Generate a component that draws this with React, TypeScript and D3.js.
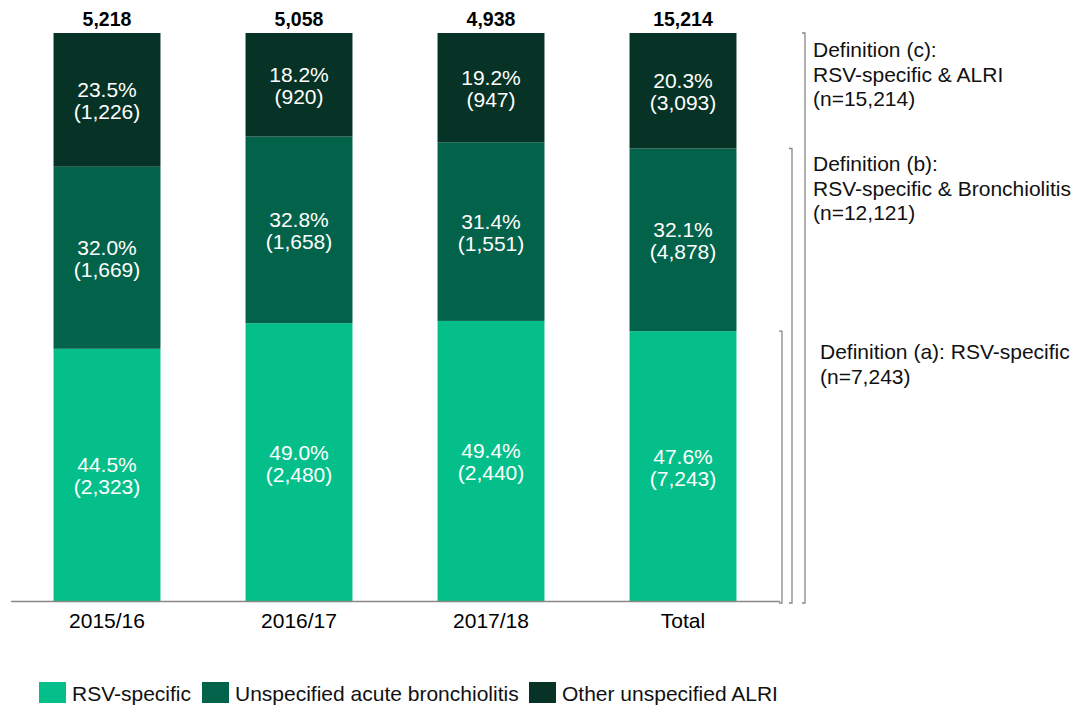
import React from "react";
import * as d3 from "d3";

const categories = ["2015/16", "2016/17", "2017/18", "Total"];
const seriesNames = ["RSV-specific", "Unspecified acute bronchiolitis", "Other unspecified ALRI"];
const pctRSV = [44.5, 49.0, 49.4, 47.6];
const pctBronch = [32.0, 32.8, 31.4, 32.1];
const pctOther = [23.5, 18.2, 19.2, 20.3];
const nRSV = [2323, 2480, 2440, 7243];
const nBronch = [1669, 1658, 1551, 4878];
const nOther = [1226, 920, 947, 3093];
const totals = [5218, 5058, 4938, 15214];
const definitions = [
  { lines: ["Definition (a): RSV-specific", "(n=7,243)"], upTo: 1 },
  { lines: ["Definition (b):", "RSV-specific & Bronchiolitis", "(n=12,121)"], upTo: 2 },
  { lines: ["Definition (c):", "RSV-specific & ALRI", "(n=15,214)"], upTo: 3 },
];
const colors = ["#05bf8a", "#03634a", "#063326"];

export default function App() {
  const W = 1076, H = 705;
  const x = d3.scaleBand<string>().domain(categories).range([11, 779]).paddingInner(0.443).paddingOuter(0.2215);
  const y = d3.scaleLinear().domain([0, 100]).range([602, 33]);
  const fmt = d3.format(",");
  const font = "'Liberation Sans', Arial, sans-serif";

  const rows = categories.map((c, i) => ({
    cat: c,
    vals: [pctRSV[i], pctBronch[i], pctOther[i]],
    ns: [nRSV[i], nBronch[i], nOther[i]],
  }));

  const bracketX = [782, 792, 805];
  const textX = [820, 813, 813];
  const textY0 = [359, 171, 57];

  return (
    <svg width={W} height={H} style={{ position: "absolute", left: 0, top: 0, background: "#fff" }} fontFamily={font}>
      {rows.map((r, i) => {
        let cum = 0;
        const x0 = x(r.cat)!;
        const bw = x.bandwidth();
        return (
          <g key={r.cat}>
            {r.vals.map((v, k) => {
              const y0 = y(cum), y1 = y(cum + v);
              cum += v;
              const cy = (y0 + y1) / 2;
              return (
                <g key={k}>
                  <rect x={x0} y={y1} width={bw} height={y0 - y1} fill={colors[k]} />
                  <text x={x0 + bw / 2} y={cy - 3} textAnchor="middle" fill="#fff" fontSize={21}>
                    {v.toFixed(1)}%
                  </text>
                  <text x={x0 + bw / 2} y={cy + 19} textAnchor="middle" fill="#fff" fontSize={21}>
                    ({fmt(r.ns[k])})
                  </text>
                </g>
              );
            })}
            <text x={x0 + bw / 2} y={26} textAnchor="middle" fontWeight="bold" fontSize={19.5} fill="#000">
              {fmt(totals[i])}
            </text>
            <text x={x0 + bw / 2} y={628} textAnchor="middle" fontSize={21} fill="#000">
              {r.cat}
            </text>
          </g>
        );
      })}
      <line x1={11} x2={780} y1={601.5} y2={601.5} stroke="#888" strokeWidth={1.5} />
      {definitions.map((d, k) => {
        const lastIdx = categories.length - 1;
        const sum = [pctRSV, pctBronch, pctOther].slice(0, d.upTo).reduce((s, arr) => s + arr[lastIdx], 0);
        const top = k === 2 ? y(100) : y(sum);
        const bx = bracketX[k];
        return (
          <g key={k}>
            <path d={`M${bx - 3},${top} H${bx} V603 H${bx - 3}`} fill="none" stroke="#888" strokeWidth={1.3} />
            {d.lines.map((l, j) => (
              <text key={j} x={textX[k]} y={textY0[k] + j * 24.5} fontSize={21} fill="#111">
                {l}
              </text>
            ))}
          </g>
        );
      })}
      {seriesNames.map((s, k) => {
        const lx = [39, 202, 529][k];
        return (
          <g key={s}>
            <rect x={lx} y={682} width={27} height={21} fill={colors[k]} />
            <text x={lx + 33} y={701} fontSize={21} fill="#111">
              {s}
            </text>
          </g>
        );
      })}
    </svg>
  );
}
